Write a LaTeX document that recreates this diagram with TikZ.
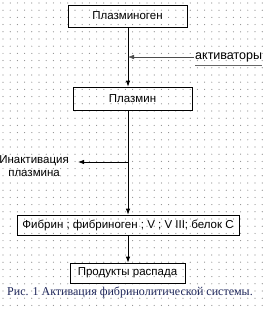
\documentclass[tikz,border=0pt]{standalone}
\usepackage{fontspec}
\setmainfont{Liberation Sans}
\newfontfamily\capfont{Liberation Serif}
\usetikzlibrary{arrows.meta}
\definecolor{capblue}{RGB}{30,38,90}
\begin{document}
\begin{tikzpicture}[x=1pt,y=-1pt,
  stage/.style={draw, line width=.7pt, inner sep=0pt, font=\fontsize{11.5}{13}\selectfont},
  side/.style={align=center, inner sep=0pt, font=\fontsize{11.5}{12.5}\selectfont},
  flow/.style={-{Latex[length=6pt,width=4.5pt]}, line width=.8pt},
  hint/.style={-{Latex[length=6pt,width=4.5pt]}, line width=.5pt, black!70}]
\useasboundingbox (0,0) rectangle (266,310);
% dot grid of the page
\foreach \i in {0,...,36}
  \foreach \j in {0,...,42}
    \fill[black!45] (3pt+\i*7.2pt, -3pt-\j*7.2pt) circle[radius=.6pt];
\node[stage, minimum width=119pt, minimum height=22pt] (plg) at (127.5,16) {Плазминоген};
\node[stage, minimum width=119pt, minimum height=23pt] (pl) at (132.5,98.5) {Плазмин};
\node[stage, minimum width=222pt, minimum height=20pt] (fib) at (128,225) {Фибрин ; фибриноген ; V ; V III; белок С};
\node[stage, minimum width=115pt, minimum height=20pt] (prod) at (127.5,273) {Продукты распада};
\node[side, anchor=west, font=\fontsize{12.5}{13}\selectfont] (act) at (195,57) {активаторы};
\node[side, anchor=east] (inact) at (69,166) {Инактивация\\плазмина};
\node[font=\capfont\fontsize{12}{14}\selectfont, text=capblue, inner sep=0pt] (cap) at (130,292) {Рис. 1 Активация фибринолитической системы.};
\coordinate (j1) at (128,57);
\coordinate (j2) at (128,162);
\draw[flow] (plg.south -| j1) -- (pl.north -| j1);
\draw[hint] ([xshift=-1pt]act.west) -- (j1);
\draw[black!60, line width=.6pt] ([yshift=-3pt]act.south west) -- ([yshift=-3pt]act.south east);
\draw[flow] (pl.south -| j1) -- (fib.north -| j1);
\draw[flow] (j2) -- ([xshift=9pt]inact.east |- j2);
\draw[flow] (fib.south -| j1) -- (prod.north -| j1);
\end{tikzpicture}
\end{document}
